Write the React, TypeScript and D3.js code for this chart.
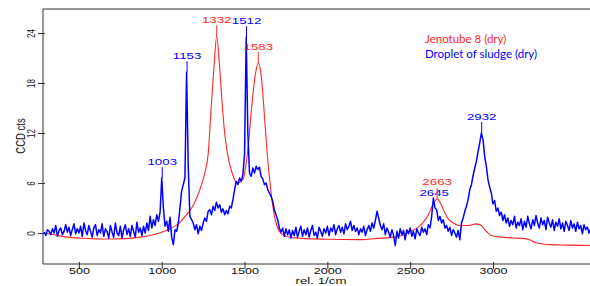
import React, { useEffect, useRef } from 'react';
import * as d3 from 'd3';

// Droplet of sludge (dry): sampled every 10 rel. 1/cm starting at 290
const sludgeStart = 290;
const sludgeStep = 10;
const sludgeCts = [
  0.1, -0.3, 0.4, 0.2, -0.2, 0.5, 0.0, 0.9, -0.4, 0.3, // 290
  0.6, -0.2, 0.2, 1.0, 0.1, 0.7, -0.3, 0.4, 1.1, -0.1, // 390
  0.5, 0.0, 0.8, -0.4, 1.2, 0.3, -0.2, 0.9, 0.2, -0.5, // 490
  0.6, 1.0, -0.3, 0.4, 0.0, 1.1, -0.4, 0.5, 0.2, -0.6, // 590
  0.9, 0.1, -0.5, 1.2, 0.0, -0.3, 0.8, -0.6, 0.4, 1.0, // 690
  -0.2, 0.5, -0.4, 0.9, 0.2, -0.5, 1.3, 0.1, 0.6, -0.3, // 790
  0.8, 0.0, 1.2, 0.3, 2.0, 0.6, 1.6, 0.9, 2.2, 1.4, // 890
  2.5, 6.6, 3.0, 0.8, 1.4, 0.2, 1.9, -0.5, -1.4, 0.4, // 990
  0.2, 1.2, 3.0, 5.0, 5.8, 6.6, 19.3, 8.0, 2.0, 1.6, // 1090
  1.2, 0.4, 1.0, -0.1, 0.8, 0.3, 1.2, 1.8, 1.4, 2.6, // 1190
  2.8, 2.2, 3.2, 2.7, 3.7, 3.0, 3.4, 2.5, 2.9, 2.2, // 1290
  2.7, 2.3, 3.2, 3.0, 4.0, 5.2, 6.2, 5.8, 6.6, 6.2, // 1390
  7.0, 9.5, 23.5, 12.0, 7.2, 6.8, 7.8, 7.2, 8.0, 7.6, // 1490
  7.9, 6.8, 6.5, 5.8, 6.0, 5.2, 4.8, 4.4, 3.8, 2.8, // 1590
  2.2, 1.6, 0.6, 0.1, 0.6, -0.4, 0.5, -0.2, 0.4, -0.6, // 1690
  0.3, -0.3, 0.7, -0.5, 0.2, 0.8, -0.4, 0.4, -0.2, 0.6, // 1790
  -0.5, 0.3, 0.9, -0.3, 0.1, -0.6, 0.7, 0.2, -0.4, 0.5, // 1890
  0.0, 0.8, -0.3, 0.6, 0.2, 1.0, -0.2, 0.5, 0.9, 0.1, // 1990
  0.7, -0.1, 1.1, 0.4, 0.8, 1.4, 0.3, 0.9, 0.2, 0.6, // 2090
  -0.2, 0.5, 0.1, 0.8, -0.3, 0.4, 0.9, 0.2, 1.2, 0.6, // 2190
  1.5, 2.6, 1.8, 0.9, 0.4, 1.1, -0.2, 0.6, 0.1, -0.5, // 2290
  0.4, -0.3, -1.5, 0.2, -0.6, 0.5, -0.2, 0.3, -0.8, 0.4, // 2390
  -0.1, 0.6, -0.4, 0.2, -0.7, 0.5, 0.0, -0.3, 0.7, 0.1, // 2490
  0.5, -0.2, 1.0, 0.6, 2.0, 4.2, 3.0, 2.8, 1.5, 2.0, // 2590
  1.2, 1.6, 0.6, 0.9, 0.2, 0.7, -0.3, 0.4, 0.0, -0.5, // 2690
  0.3, -0.8, 1.2, 1.8, 2.6, 3.2, 4.0, 5.2, 5.8, 6.9, // 2790
  7.8, 8.6, 9.8, 10.8, 12.0, 11.2, 9.2, 8.0, 6.4, 5.5, // 2890
  4.8, 3.5, 3.9, 2.6, 3.0, 2.1, 2.5, 1.5, 2.2, 1.2, // 2990
  1.8, 0.8, 1.5, 1.0, 2.0, 0.6, 1.3, 0.9, 1.7, 0.4, // 3090
  1.4, 0.7, 2.0, 1.1, 0.5, 1.6, 0.9, 2.1, 1.2, 0.6, // 3190
  1.8, 1.0, 1.5, 0.4, 1.9, 1.2, 0.7, 1.6, 0.3, 1.3, // 3290
  0.8, 1.7, 0.5, 1.2, 0.2, 1.4, 0.9, 0.3, 1.5, 0.6, // 3390
  1.1, 0.2, 1.3, 0.5, 0.9, -0.1, 1.0, 0.4, 0.7, 0.0, // 3490
  0.5, // 3590
];

// Jenotube 8 (dry): smooth curve
const jenoShift = [
  290, 350, 400, 500, 600, 700, 800, 870, 950, 1000,
  1050, 1100, 1150, 1190, 1230, 1260, 1280, 1300, 1315, 1332,
  1350, 1365, 1380, 1400, 1425, 1455, 1490, 1520, 1545, 1565,
  1583, 1600, 1615, 1635, 1655, 1672, 1690, 1710, 1740, 1775,
  1850, 2000, 2200, 2300, 2400, 2450, 2500, 2550, 2580, 2610,
  2630, 2663, 2690, 2710, 2730, 2760, 2800, 2850, 2900, 2930,
  2960, 2990, 3050, 3120, 3180, 3220, 3264, 3350, 3450, 3586,
];
const jenoCts = [
  0.0, -0.2, -0.4, -0.6, -0.7, -0.72, -0.65, -0.5, -0.2, 0.1,
  0.5, 1.1, 2.2, 3.3, 5.2, 7.2, 9.4, 15.5, 19.8, 23.6,
  19.8, 15.5, 12.0, 9.2, 7.2, 6.0, 6.4, 10.0, 15.5, 19.0,
  20.4, 19.0, 15.5, 10.0, 5.8, 3.0, 1.2, 0.2, -0.3, -0.5,
  -0.65, -0.75, -0.8, -0.65, -0.5, -0.3, 0.2, 0.7, 1.3, 2.2,
  3.1, 4.1, 3.3, 2.4, 1.7, 1.2, 0.9, 0.9, 1.1, 0.9,
  0.2, -0.3, -0.5, -0.6, -0.65, -0.8, -1.2, -1.4, -1.45, -1.5,
];

const xTicks = [500, 1000, 1500, 2000, 2500, 3000];
const yTicks = [0, 6, 12, 18, 24];

const peakLabels = ['1003', '1153', '1332', '1512', '1583', '2645', '2663', '2932'];
const peakShift = [1003, 1153, 1332, 1512, 1583, 2645, 2663, 2932];
const peakSeries = ['sludge', 'sludge', 'jeno', 'sludge', 'jeno', 'sludge', 'jeno', 'sludge'];

const legendLabels = ['Jenotube 8 (dry)', 'Droplet of sludge (dry)'];

const RED = '#ff2626';
const BLUE = '#0000ff';
const STRETCH = 1.4; // the original image is horizontally stretched

const App: React.FC = () => {
  const svgRef = useRef<SVGSVGElement>(null);

  useEffect(() => {
    if (!svgRef.current) return;
    const svg = d3.select(svgRef.current);
    svg.selectAll('*').remove();

    const left = 43, right = 590, top = 9, bottom = 264;

    const x = d3.scaleLinear().domain([283, 3586]).range([left, right]);
    const y = d3.scaleLinear().domain([-3.72, 26.88]).range([bottom, top]);

    const sludge = sludgeCts.map((v, i) => ({ s: sludgeStart + i * sludgeStep, v }));
    const jeno = jenoShift.map((s, i) => ({ s, v: jenoCts[i] }));

    // Frame
    svg.append('path')
      .attr('d', `M${right},${top}H${left}V${bottom}H${right}`)
      .attr('fill', 'none')
      .attr('stroke', '#333')
      .attr('stroke-width', 1);

    // X axis
    const xAxis = svg.append('g')
      .attr('transform', `translate(0,${bottom})`)
      .call(d3.axisBottom(x).tickValues(xTicks).tickFormat(d3.format('d')).tickSize(5).tickSizeOuter(0));
    xAxis.select('.domain').remove();
    xAxis.selectAll('line').attr('y1', -2).attr('stroke', '#333');
    xAxis.selectAll('text')
      .attr('y', 10)
      .attr('dy', 0)
      .attr('transform', `scale(${STRETCH},1)`)
      .attr('font-family', 'Liberation Sans, Arial, sans-serif')
      .attr('font-size', 9)
      .attr('fill', '#111');

    // Y axis
    const yAxis = svg.append('g')
      .attr('transform', `translate(${left},0)`)
      .call(d3.axisLeft(y).tickValues(yTicks).tickFormat(d3.format('d')).tickSize(5).tickSizeOuter(0));
    yAxis.select('.domain').remove();
    yAxis.selectAll('line').attr('x1', 2).attr('stroke', '#333');
    yAxis.selectAll('text')
      .attr('x', 0)
      .attr('dy', 0)
      .attr('text-anchor', 'middle')
      .attr('transform', `translate(-8,0) scale(${STRETCH},1) rotate(-90)`)
      .attr('font-family', 'Liberation Sans, Arial, sans-serif')
      .attr('font-size', 8)
      .attr('fill', '#111');

    // Axis titles
    svg.append('text')
      .attr('transform', `translate(25,136) scale(${STRETCH},1) rotate(-90)`)
      .attr('text-anchor', 'middle')
      .attr('font-family', 'Liberation Sans, Arial, sans-serif')
      .attr('font-size', 9.5)
      .attr('fill', '#111')
      .text('CCD cts');

    svg.append('text')
      .attr('transform', `translate(321,284) scale(${STRETCH},1)`)
      .attr('text-anchor', 'middle')
      .attr('font-family', 'Liberation Sans, Arial, sans-serif')
      .attr('font-size', 9.5)
      .attr('fill', '#111')
      .text('rel. 1/cm');

    // Spectra
    const line = d3.line<{ s: number; v: number }>()
      .x(d => x(d.s))
      .y(d => y(d.v));

    svg.append('path')
      .datum(jeno)
      .attr('d', line.curve(d3.curveMonotoneX))
      .attr('fill', 'none')
      .attr('stroke', RED)
      .attr('stroke-width', 1.1);

    svg.append('path')
      .datum(sludge)
      .attr('d', line.curve(d3.curveLinear))
      .attr('fill', 'none')
      .attr('stroke', BLUE)
      .attr('stroke-width', 1.5)
      .attr('stroke-linejoin', 'round');

    // Peak annotations
    const peakValue = (series: string, s: number) => {
      const pts = series === 'jeno' ? jeno : sludge;
      const near = pts.filter(p => Math.abs(p.s - s) <= 10);
      return d3.max(near, p => p.v) ?? 0;
    };

    peakLabels.forEach((label, i) => {
      const s = peakShift[i];
      const color = peakSeries[i] === 'jeno' ? RED : BLUE;
      const py = y(peakValue(peakSeries[i], s));
      const px = x(s);
      const low = label === '2645';
      const baseline = low ? py - 2 : py - 13.5;
      if (!low) {
        svg.append('line')
          .attr('x1', px).attr('x2', px)
          .attr('y1', py - 11).attr('y2', py)
          .attr('stroke', color)
          .attr('stroke-width', 1);
      }
      svg.append('text')
        .attr('transform', `translate(${px},${baseline}) scale(${STRETCH},1)`)
        .attr('text-anchor', 'middle')
        .attr('font-family', 'Liberation Sans, Arial, sans-serif')
        .attr('font-size', 9.5)
        .attr('fill', color)
        .text(label);
    });

    // Legend
    legendLabels.forEach((label, i) => {
      svg.append('text')
        .attr('x', 425)
        .attr('y', 43 + i * 15)
        .attr('font-family', 'Lato, Carlito, sans-serif')
        .attr('font-size', 11.5)
        .attr('fill', i === 0 ? RED : BLUE)
        .text(label);
    });
  }, []);

  return (
    <svg
      ref={svgRef}
      width={590}
      height={286}
      style={{ position: 'absolute', left: 0, top: 0, background: '#fff' }}
    />
  );
};

export default App;
